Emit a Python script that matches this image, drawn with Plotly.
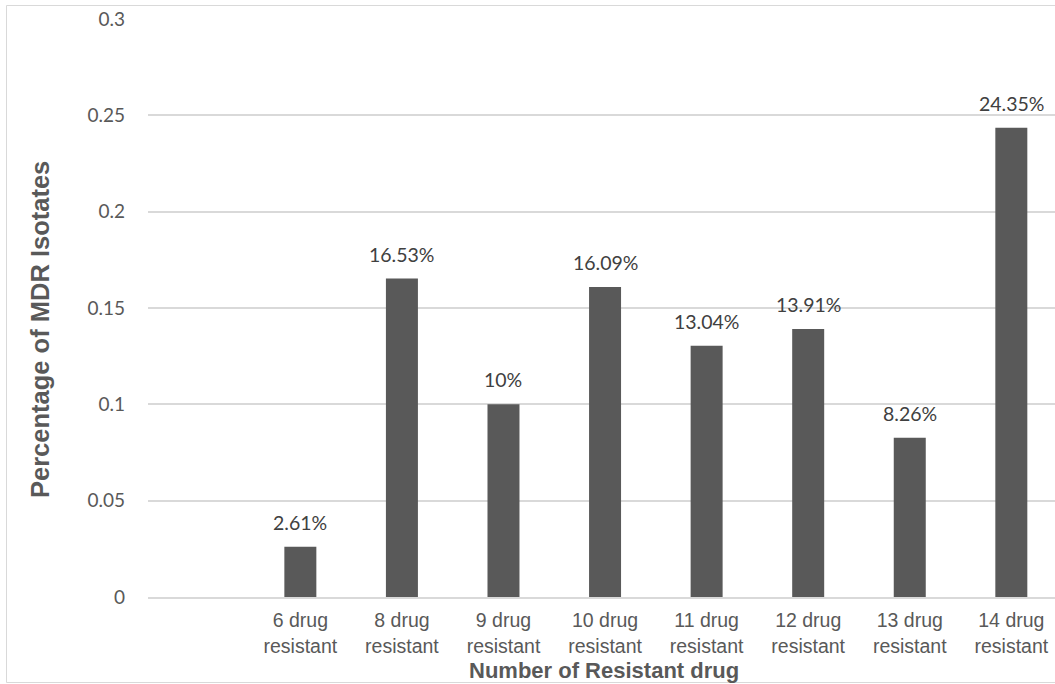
import plotly.graph_objects as go

categories = ["6 drug resistant", "8 drug resistant", "9 drug resistant", "10 drug resistant",
              "11 drug resistant", "12 drug resistant", "13 drug resistant", "14 drug resistant"]
values = [0.0261, 0.1653, 0.10, 0.1609, 0.1304, 0.1391, 0.0826, 0.2435]
value_labels = ["2.61%", "16.53%", "10%", "16.09%", "13.04%", "13.91%", "8.26%", "24.35%"]
y_ticks = [0, 0.05, 0.1, 0.15, 0.2, 0.25, 0.3]
x_title = "Number of Resistant drug"
y_title = "Percentage of MDR Isotates"

# first category slot is empty in the original chart
xpos = list(range(1, len(categories) + 1))
tick_text = [c.replace(" resistant", "<br>resistant") for c in categories]

W, H = 1055, 684
L, T, B = 148, 19, 87
PW, PH = W - L, H - T - B

fig = go.Figure()
fig.add_trace(go.Bar(
    x=xpos, y=values,
    marker=dict(color="#595959", line=dict(width=0)),
    width=0.315,
    hoverinfo="skip",
))

for x, v, t in zip(xpos, values, value_labels):
    fig.add_annotation(x=x, y=v, text=t, showarrow=False, yanchor="bottom",
                       yshift=11, font=dict(family="Lato", size=19.5, color="#404040"))

# axis titles
fig.add_annotation(xref="paper", yref="paper", x=(604 - L) / PW, y=-(670.5 - (H - B)) / PH,
                   text=f"<b>{x_title}</b>", showarrow=False, xanchor="center", yanchor="middle",
                   borderpad=0,
                   font=dict(family="Liberation Sans", size=22, color="#595959"))
fig.add_annotation(xref="paper", yref="paper", x=(40 - L) / PW, y=((H - B) - 330) / PH,
                   text=f"<b>{y_title}</b>", showarrow=False, textangle=-90,
                   xanchor="center", yanchor="middle",
                   font=dict(family="Liberation Sans", size=25.5, color="#595959"))

fig.add_shape(type="rect", xref="paper", yref="paper",
              x0=(6.5 - L) / PW, x1=(1060 - L) / PW,
              y0=-(682.5 - (H - B)) / PH, y1=1 + (T - 5.5) / PH,
              line=dict(color="#d9d9d9", width=1), layer="below")

fig.update_layout(
    width=W, height=H,
    margin=dict(l=L, r=0, t=T, b=B, autoexpand=False),
    plot_bgcolor="white", paper_bgcolor="white",
    showlegend=False,
    xaxis=dict(
        range=[-0.5, 8.43],
        tickmode="array", tickvals=xpos, ticktext=tick_text,
        ticks="", showgrid=False, zeroline=False,
        showline=True, linecolor="#d9d9d9", linewidth=1.5,
        tickfont=dict(family="Liberation Sans", size=19.5, color="#595959"),
        ticklabelstandoff=5,
        automargin=False,
    ),
    yaxis=dict(
        range=[0, 0.3],
        tickmode="array", tickvals=y_ticks, ticktext=[f"{v:g}" for v in y_ticks],
        ticks="", showgrid=True, gridcolor="#d9d9d9", gridwidth=1.5,
        zeroline=False, showline=False,
        tickfont=dict(family="Lato", size=19, color="#595959"),
        ticklabelstandoff=22,
        automargin=False,
    ),
)

fig.write_html("out.html")
